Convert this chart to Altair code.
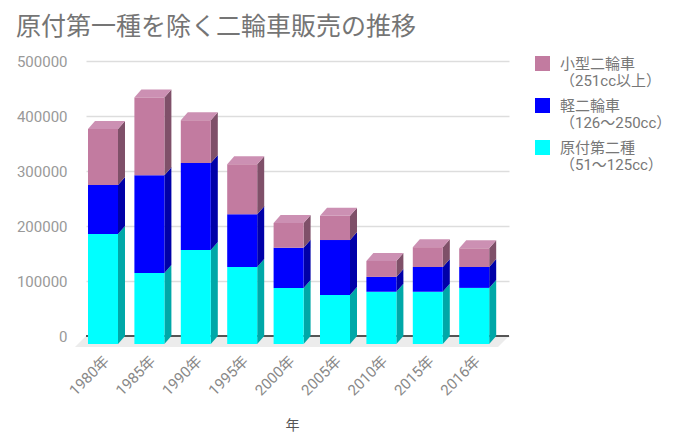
import altair as alt
import pandas as pd

years = ["1980年", "1985年", "1990年", "1995年", "2000年", "2005年", "2010年", "2015年", "2016年"]
cyan_vals = [200000, 129000, 171000, 140000, 102000, 89000, 95000, 95000, 102000]
blue_vals = [89000, 178000, 158000, 96000, 73000, 100000, 27000, 45000, 38000]
pink_vals = [102000, 141000, 78000, 91000, 45000, 44000, 29000, 36000, 34000]
series = ["小型二輪車|（251cc以上）", "軽二輪車|（126～250cc）", "原付第二種|（51～125cc）"]
front_colors = ["#c27ba0", "#0000ff", "#00ffff"]
side_colors = ["#7f5069", "#0000a8", "#00a8a8"]
top_color = "#cc90b3"

PW, PH = 423, 275
SLOT = 46.4
X_MIN = -17 / SLOT
X_MAX = X_MIN + PW / SLOT
HALF = 15 / SLOT
DX = 7 / SLOT
DV = 8 / PH * 500000
FONT = "Roboto, 'Noto Sans CJK JP', sans-serif"

stack_order = [(2, cyan_vals), (1, blue_vals), (0, pink_vals)]
front, side, top = [], [], []
for i in range(len(years)):
    base = 0
    for k, vals in stack_order:
        end = base + vals[i]
        front.append(dict(x=i - HALF, x2=i + HALF, y=end - DV, y2=base - DV, s=series[k]))
        side.append(dict(g=f"{i}-{k}", x=i + HALF, y=end - DV, y2=base - DV, c=side_colors[k]))
        side.append(dict(g=f"{i}-{k}", x=i + HALF + DX, y=end, y2=base, c=side_colors[k]))
        base = end
    t, b = base - DV, base
    L, R = i - HALF, i + HALF
    top += [dict(g=i, x=L, y=t, y2=t), dict(g=i, x=L + DX, y=b, y2=t),
            dict(g=i, x=R, y=b, y2=t), dict(g=i, x=R + DX, y=b, y2=b)]

F = 11 / PH * 500000
F_DX = 11 / SLOT
floor = pd.DataFrame([
    dict(x=X_MIN - F_DX, y=-F, y2=-F), dict(x=X_MIN, y=0, y2=-F),
    dict(x=X_MAX - F_DX, y=0, y2=-F), dict(x=X_MAX, y=0, y2=0),
])

xs = alt.Scale(domain=[X_MIN, X_MAX], nice=False, zero=False)
ys = alt.Scale(domain=[0, 500000], nice=False)
label_expr = "[" + ",".join(f"'{y}'" for y in years) + "][datum.value]"

x_main = alt.X("x:Q", scale=xs, title="年", axis=alt.Axis(
    values=list(range(len(years))), labelExpr=label_expr, labelAngle=-45, labelAlign="right",
    labelBaseline="middle", labelPadding=22, labelOffset=3, labelFontSize=15, labelColor="#888888", labelFont=FONT,
    grid=False, domain=False, ticks=False, titleFont=FONT, titleFontSize=14, titleFontWeight="normal",
    titleColor="#555555", titleX=206, titleY=82, labelOverlap=False))
y_main = alt.Y("y:Q", scale=ys, title=None, axis=alt.Axis(
    values=[0, 100000, 200000, 300000, 400000, 500000], format="d", labelFontSize=15,
    labelColor="#999999", labelFont=FONT, labelPadding=19, domain=False, ticks=False,
    grid=True, gridColor="#dddddd", gridWidth=1.5))

floor_layer = alt.Chart(floor).mark_area(color="#ececec", clip=False, orient="vertical").encode(x=x_main, y=y_main, y2="y2:Q")
zero_line = alt.Chart(pd.DataFrame({"y": [0]})).mark_rule(color="#555555", strokeWidth=2).encode(y=alt.Y("y:Q", scale=ys))
side_layer = alt.Chart(pd.DataFrame(side)).mark_area(clip=False, orient="vertical").encode(
    x=alt.X("x:Q", scale=xs), y=alt.Y("y:Q", scale=ys), y2="y2:Q", detail="g:N",
    color=alt.Color("c:N", scale=None))
top_layer = alt.Chart(pd.DataFrame(top)).mark_area(color=top_color, clip=False, orient="vertical").encode(
    x=alt.X("x:Q", scale=xs), y=alt.Y("y:Q", scale=ys), y2="y2:Q", detail="g:N")
front_layer = alt.Chart(pd.DataFrame(front)).mark_rect(clip=False).encode(
    x=alt.X("x:Q", scale=xs), x2="x2:Q", y=alt.Y("y:Q", scale=ys), y2="y2:Q",
    color=alt.Color("s:N", scale=alt.Scale(domain=series, range=front_colors), sort=None, legend=alt.Legend(
        title=None, orient="none", legendX=449, legendY=-5, symbolType="square", symbolSize=225,
        symbolStrokeWidth=0, symbolOpacity=1, labelExpr="split(datum.label, '|')", labelFont=FONT,
        labelFontSize=15, labelColor="#777777", labelLimit=200, rowPadding=9, labelOffset=10)))

chart = (floor_layer + zero_line + side_layer + top_layer + front_layer).properties(
    width=PW, height=PH,
    padding={"left": 78, "top": 53, "right": 169, "bottom": 98},
    autosize=alt.AutoSizeParams(type="none"),
    title=alt.TitleParams("原付第一種を除く二輪車販売の推移", anchor="start", frame="group", dx=-70, offset=14,
                          fontSize=25, fontWeight="normal", color="#757575", font=FONT),
).configure_view(stroke=None)

chart.save("out.html", embed_options={"renderer": "svg", "actions": False})
